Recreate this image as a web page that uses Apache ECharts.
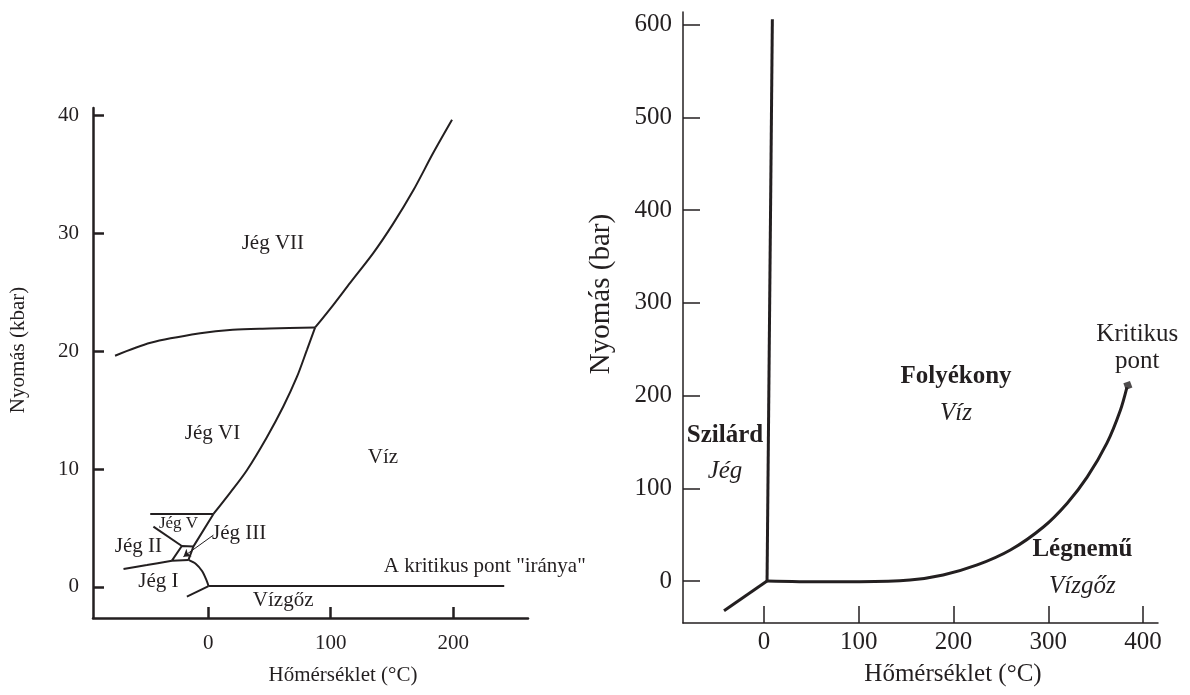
<!DOCTYPE html>
<html>
<head>
<meta charset="utf-8">
<script src="https://cdn.jsdelivr.net/npm/echarts@6/dist/echarts.min.js"></script>
<style>
html,body{margin:0;padding:0;background:#fff;}
#chart{width:1190px;height:695px;}
</style>
</head>
<body>
<div id="chart"></div>
<script>
// ---------- Left chart (kbar) data ----------
const leftTicksX = [0, 100, 200];
const leftTicksY = [0, 10, 20, 30, 40];
const ice7Melt = [[87.3,22.0],[102,23.9],[116,25.8],[134.7,28.3],[151,30.8],[167.3,33.6],[183.7,36.8],[199,39.6]];
const ice6Ice7 = [[-76,19.6],[-47,20.7],[-6.5,21.5],[20,21.8],[50,21.9],[87.3,22.0]];
const ice6Melt = [[4.3,6.19],[18,8.0],[31.6,9.9],[47.9,12.7],[61.3,15.3],[72.4,17.8],[80.6,20.1],[87.3,22.0]];
const ice5Top = [[-47.3,6.19],[4.3,6.19]];
const ice5Left = [[-44.7,5.11],[-21.5,3.47]];
const ice5Right = [[4.3,6.19],[-12,3.44],[-16.1,2.29]];
const ice3Box = [[-12,3.44],[-21.5,3.47],[-29.6,2.23],[-16.1,2.29]];
const ice2Ice1 = [[-69.1,1.53],[-50,1.86],[-29.6,2.23]];
const ice1Melt = [[-16.1,2.29],[-10,1.95],[-5,1.35],[-1.5,0.6],[0.3,0.08]];
const sublimationL = [[-17.4,-0.82],[0.3,0.08]];
const vaporizationL = [[0.3,0.08],[241.6,0.08]];
const arrowIII = [[4.3,4.4],[-20.2,2.57]];
const leftLabelNames = ['Jég VII','Jég VI','Víz','Jég III','Jég II','Jég I','Vízgőz','A kritikus pont "iránya"'];
const leftLabelCoords = [[52.8,29.1],[3.5,13.0],[142.6,11.0],[25.3,4.5],[-56.9,3.42],[-40.6,0.45],[61.2,-1.16],[225.7,1.72]];
const smallLabelNames = ['Jég V'];
const smallLabelCoords = [[-24.2,5.34]];

// ---------- Right chart (bar) data ----------
const rightTicksX = [0, 100, 200, 300, 400];
const rightTicksY = [0, 100, 200, 300, 400, 500, 600];
const meltR = [[3.2,0],[8.8,606]];
const sublimationR = [[-42.2,-32],[3.2,0]];
const vaporizationR = [[3.2,0],[60,-0.9],[101,-0.8],[154,1.1],[189,6.5],[225,17.3],[260,33.4],[294.5,58],[320,84],[341,112],[362,149],[376,184],[383,209]];
const criticalPoint = [[384,211]];
const rightLabelTop = ['Szilárd','Folyékony','Légnemű'];
const rightLabelBottom = ['Jég','Víz','Vízgőz'];
const rightLabelCoords = [[-41.2,137.5],[202.6,200.6],[336,14]];
const critLabel = ['Kritikus','pont'];
const critLabelCoord = [394,251];

const INK = '#231f20';
const FONT = '"Liberation Serif", "Times New Roman", serif';

function lineSeries(data, axis, width, smooth) {
  return {
    type: 'line', xAxisIndex: axis, yAxisIndex: axis, data: data,
    showSymbol: false, symbol: 'none', smooth: smooth ? 0.3 : false,
    lineStyle: {color: INK, width: width}, silent: true, z: 3
  };
}

function textSeries(axis, data, label) {
  return {
    type: 'scatter', xAxisIndex: axis, yAxisIndex: axis, symbolSize: 0, silent: true,
    itemStyle: {color: INK, opacity: 1},
    label: Object.assign({
      show: true, position: [0, 0], align: 'center', verticalAlign: 'middle',
      color: INK, opacity: 1, textBorderWidth: 0, fontFamily: FONT
    }, label),
    data: data, z: 5
  };
}

const chart = echarts.init(document.getElementById('chart'), null, {renderer: 'canvas'});

const option = {
  animation: false,
  backgroundColor: '#fff',
  grid: [
    {left: 93, top: 108, width: 435, height: 510},
    {left: 683, top: 12, width: 475, height: 611}
  ],
  xAxis: [
    {
      gridIndex: 0, type: 'value', min: -94, max: 261,
      name: 'Hőmérséklet (°C)', nameLocation: 'middle', nameGap: 47,
      nameTextStyle: {fontFamily: FONT, fontSize: 21, color: INK, padding: [0, 0, 0, 65]},
      axisLine: {onZero: false, lineStyle: {color: INK, width: 2.5}},
      axisTick: {inside: true, length: 11, customValues: leftTicksX, lineStyle: {color: INK, width: 2.5}},
      axisLabel: {customValues: leftTicksX, margin: 15, fontFamily: FONT, fontSize: 21, color: INK},
      splitLine: {show: false}
    },
    {
      gridIndex: 1, type: 'value', min: -85.5, max: 415.8,
      name: 'Hőmérséklet (°C)', nameLocation: 'middle', nameGap: 39,
      nameTextStyle: {fontFamily: FONT, fontSize: 25, color: INK, padding: [0, 0, 0, 65]},
      axisLine: {onZero: false, lineStyle: {color: INK, width: 1.5}},
      axisTick: {inside: true, length: 17, customValues: rightTicksX, lineStyle: {color: INK, width: 1.5}},
      axisLabel: {customValues: rightTicksX, margin: 7, fontFamily: FONT, fontSize: 25, color: INK},
      splitLine: {show: false}
    }
  ],
  yAxis: [
    {
      gridIndex: 0, type: 'value', min: -2.63, max: 40.6,
      name: 'Nyomás (kbar)', nameLocation: 'middle', nameGap: 64,
      nameTextStyle: {fontFamily: FONT, fontSize: 21, color: INK, padding: [0, 0, 0, 26]},
      axisLine: {onZero: false, lineStyle: {color: INK, width: 2.5}},
      axisTick: {inside: true, length: 11, customValues: leftTicksY, lineStyle: {color: INK, width: 2.5}},
      axisLabel: {customValues: leftTicksY, margin: 14, fontFamily: FONT, fontSize: 21, color: INK},
      splitLine: {show: false}
    },
    {
      gridIndex: 1, type: 'value', min: -45.3, max: 613.8,
      name: 'Nyomás (bar)', nameLocation: 'middle', nameGap: 67,
      nameTextStyle: {fontFamily: FONT, fontSize: 29, color: INK, padding: [0, 0, 0, 47]},
      axisLine: {onZero: false, lineStyle: {color: INK, width: 1.5}},
      axisTick: {inside: true, length: 17, customValues: rightTicksY, lineStyle: {color: INK, width: 1.5}},
      axisLabel: {customValues: rightTicksY, margin: 11, fontFamily: FONT, fontSize: 25, color: INK},
      splitLine: {show: false}
    }
  ],
  series: [
    lineSeries(ice7Melt, 0, 2, true),
    lineSeries(ice6Ice7, 0, 2, true),
    lineSeries(ice6Melt, 0, 2, true),
    lineSeries(ice5Top, 0, 2, false),
    lineSeries(ice5Left, 0, 2, false),
    lineSeries(ice5Right, 0, 2, false),
    lineSeries(ice3Box, 0, 2, false),
    lineSeries(ice2Ice1, 0, 2, true),
    lineSeries(ice1Melt, 0, 2, true),
    lineSeries(sublimationL, 0, 2, false),
    lineSeries(vaporizationL, 0, 2, false),
    {
      type: 'lines', coordinateSystem: 'cartesian2d', xAxisIndex: 0, yAxisIndex: 0,
      symbol: ['none', 'arrow'], symbolSize: 7, silent: true,
      lineStyle: {color: INK, width: 1, opacity: 1},
      data: [{coords: arrowIII}]
    },
    textSeries(0, leftLabelNames.map((n, i) => ({name: n, value: leftLabelCoords[i]})),
      {formatter: p => p.name, fontSize: 21}),
    textSeries(0, smallLabelNames.map((n, i) => ({name: n, value: smallLabelCoords[i]})),
      {formatter: p => p.name, fontSize: 17}),
    lineSeries(meltR, 1, 3, false),
    lineSeries(sublimationR, 1, 3, false),
    lineSeries(vaporizationR, 1, 3, true),
    {
      type: 'scatter', xAxisIndex: 1, yAxisIndex: 1, symbol: 'rect', symbolSize: 7, silent: true,
      symbolRotate: 20, itemStyle: {color: INK}, data: criticalPoint, z: 4
    },
    textSeries(1, rightLabelTop.map((t, i) => ({value: rightLabelCoords[i], top: t, bottom: rightLabelBottom[i]})), {
      formatter: p => '{b|' + p.data.top + '}\n{i|' + p.data.bottom + '}',
      rich: {
        b: {fontFamily: FONT, fontSize: 25, fontWeight: 'bold', color: INK, lineHeight: 36, align: 'center'},
        i: {fontFamily: FONT, fontSize: 25, fontStyle: 'italic', color: INK, lineHeight: 36, align: 'center'}
      }
    }),
    textSeries(1, [critLabelCoord], {
      formatter: () => critLabel.join('\n'), fontSize: 25, lineHeight: 27
    })
  ]
};
chart.setOption(option);
</script>
</body>
</html>
